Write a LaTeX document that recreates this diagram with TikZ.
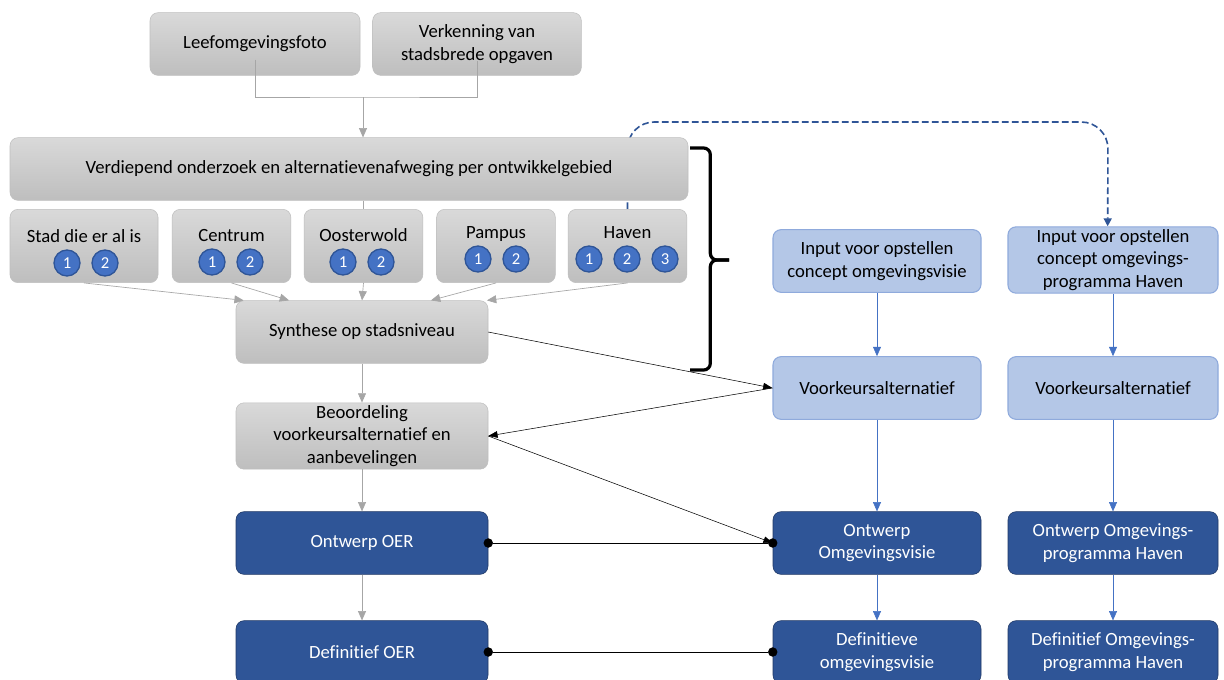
\documentclass[tikz,border=0pt]{standalone}
\usepackage{fontspec}
\setmainfont{Carlito}[Ligatures=NoCommon]
\usetikzlibrary{arrows.meta}
\usetikzlibrary{backgrounds}
\definecolor{greyline}{HTML}{A6A6A6}
\definecolor{greyedge}{HTML}{BFBFBF}
\definecolor{greytop}{HTML}{D9D9D9}
\definecolor{greybot}{HTML}{BEBEBE}
\definecolor{lightfill}{HTML}{B4C7E7}
\definecolor{lightedge}{HTML}{8FAADC}
\definecolor{accent}{HTML}{4472C4}
\definecolor{darkfill}{HTML}{2F5597}
\definecolor{darkedge}{HTML}{203864}
\tikzset{
	box/.style={rounded corners=6pt, align=center, inner sep=2pt, minimum height=47pt, font=\fontsize{14}{16.8}\selectfont},
	greybox/.style={box, draw=greyedge, top color=greytop, bottom color=greybot},
	lightbox/.style={box, draw=lightedge, line width=0.8pt, fill=lightfill, minimum width=156pt},
	darkbox/.style={box, draw=darkedge, fill=darkfill, text=white, minimum width=156pt},
	num/.style={circle, draw=darkfill, fill=accent, text=white, minimum size=19.5pt, inner sep=0pt, line width=1pt, font=\fontsize{12.5}{14}\selectfont},
	greyarrow/.style={draw=greyline, line width=0.5pt, -{Triangle[length=7pt,width=6pt]}},
	bluearrow/.style={draw=accent, -{Triangle[length=7pt,width=6pt]}},
	blackarrow/.style={draw=black, -{Triangle[length=7pt,width=5pt]}},
	dotline/.style={draw=black, {Circle[length=7pt]}-{Circle[length=7pt]}, shorten <=-3.5pt, shorten >=-3.5pt}
}
\begin{document}
\begin{tikzpicture}[x=0.75pt, y=-0.75pt]
	\useasboundingbox (0,0) rectangle (1224,679);
	% linker kolom
	\node[greybox, minimum width=157.5pt] (leef) at (255,44) {Leefomgevingsfoto};
	\node[greybox, minimum width=156.5pt] (verk) at (477,44) {Verkenning van\\stadsbrede opgaven};
	\node[greybox, minimum width=508.5pt] (verd) at (349,169) {Verdiepend onderzoek en alternatievenafweging per ontwikkelgebied};
	\node[greybox, minimum width=111pt, minimum height=55pt] (stad) at (84,246) {};
	\node[greybox, minimum width=89pt, minimum height=55pt] (centrum) at (231.5,246) {};
	\node[greybox, minimum width=89pt, minimum height=55pt] (ooster) at (363.5,246) {};
	\node[greybox, minimum width=89pt, minimum height=55pt] (pampus) at (496,246) {};
	\node[greybox, minimum width=89pt, minimum height=55pt] (haven) at (627.5,246) {};
	\node[font=\fontsize{14}{16.8}\selectfont] (stadlbl) at (84,236) {Stad die er al is};
	\node[font=\fontsize{14}{16.8}\selectfont] (centrumlbl) at (231.5,236) {Centrum};
	\node[font=\fontsize{14}{16.8}\selectfont] (oosterlbl) at (363.5,235) {Oosterwold};
	\node[font=\fontsize{14}{16.8}\selectfont] (pampuslbl) at (496,234) {Pampus};
	\node[font=\fontsize{14}{16.8}\selectfont] (havenlbl) at (627.5,233) {Haven};
	\foreach \nm/\x/\y/\t in {sa/67/263/1, sb/105/263/2, ca/212/262/1, cb/250/262/2, oa/343/262/1, ob/381/262/2,
		pa/478/259/1, pb/516/259/2, ha/589/259/1, hb/627/259/2, hc/665/259/3}
		\node[num] (\nm) at (\x,\y) {\t};
	\node[greybox, minimum width=189pt] (synth) at (362,332) {Synthese op stadsniveau};
	\node[greybox, minimum width=189pt] (beoord) at (362,436) {Beoordeling\\voorkeursalternatief en\\aanbevelingen};
	\node[darkbox, minimum width=189pt] (ontoer) at (362,543) {Ontwerp OER};
	\node[darkbox, minimum width=189pt] (defoer) at (362,652) {Definitief OER};
	% rechter kolommen
	\node[lightbox] (invisie) at (877,261) {Input voor opstellen\\concept omgevingsvisie};
	\node[lightbox, minimum width=157.5pt, minimum height=49pt] (inhaven) at (1113,260) {Input voor opstellen\\concept omgevings-\\programma Haven};
	\node[lightbox] (voorka) at (877,388) {Voorkeursalternatief};
	\node[lightbox, minimum width=157.5pt] (voorkb) at (1113,388) {Voorkeursalternatief};
	\node[darkbox] (ontvisie) at (877,543) {Ontwerp\\Omgevingsvisie};
	\node[darkbox, minimum width=157.5pt] (onthaven) at (1113,543) {Ontwerp Omgevings-\\programma Haven};
	\node[darkbox] (defvisie) at (877,652) {Definitieve\\omgevingsvisie};
	\node[darkbox, minimum width=157.5pt] (defhaven) at (1113,652) {Definitief Omgevings-\\programma Haven};
	\coordinate (join) at (363,97);
	\coordinate (bracetop) at (690,148);
	\coordinate (bracetip) at (729,260);
	\coordinate (bracebot) at (690,370);
	\begin{scope}[on background layer]
		\fill[white] (0,0) rectangle (1224,679);
		\draw[darkfill, dash pattern=on 5pt off 2.5pt, line width=1.2pt, rounded corners=20pt, -{Triangle[length=6pt,width=6pt]}] (haven.north) |- (1108,122) -- ([xshift=-4pt]inhaven.north);
	\end{scope}
	\draw[greyline] ([yshift=12pt]leef.south) |- (join) -| ([yshift=11pt]verk.south);
	\draw[greyarrow] (join) -- (join |- verd.north);
	\draw[greyline] (ooster.north |- verd.south) -- (ooster.north);
	\draw[greyarrow] (stad.south) -- ([xshift=6pt]synth.north west);
	\draw[greyarrow] (centrum.south) -- ([xshift=40pt]synth.north west);
	\draw[greyarrow] (ooster.south) -- (synth.north);
	\draw[greyarrow] (pampus.south) -- ([xshift=-43pt]synth.north east);
	\draw[greyarrow] (haven.south) -- ([xshift=-1pt]synth.north east);
	\draw[greyarrow] (synth) -- (beoord);
	\draw[greyarrow] (beoord) -- (ontoer);
	\draw[greyarrow] (ontoer) -- (defoer);
	\draw[bluearrow] (invisie) -- (voorka);
	\draw[bluearrow] (voorka) -- (ontvisie);
	\draw[bluearrow] (ontvisie) -- (defvisie);
	\draw[bluearrow] (inhaven) -- (voorkb);
	\draw[bluearrow] (voorkb) -- (onthaven);
	\draw[bluearrow] (onthaven) -- (defhaven);
	% accolade
	\draw[line width=2.4pt, rounded corners=5pt] (bracetop) -| ([xshift=-14pt]bracetip) -- (bracetip);
	\draw[line width=2.4pt, rounded corners=5pt] (bracebot) -| ([xshift=-14pt]bracetip) -- (bracetip);
	\draw[blackarrow] (synth.east) -- (voorka.west);
	\draw[blackarrow] (voorka.west) -- (beoord.east);
	\draw[blackarrow] (beoord.east) -- (ontvisie.west);
	\draw[dotline] (ontoer.east) -- (ontvisie.west);
	\draw[dotline] (defoer.east) -- (defvisie.west);
\end{tikzpicture}
\end{document}
